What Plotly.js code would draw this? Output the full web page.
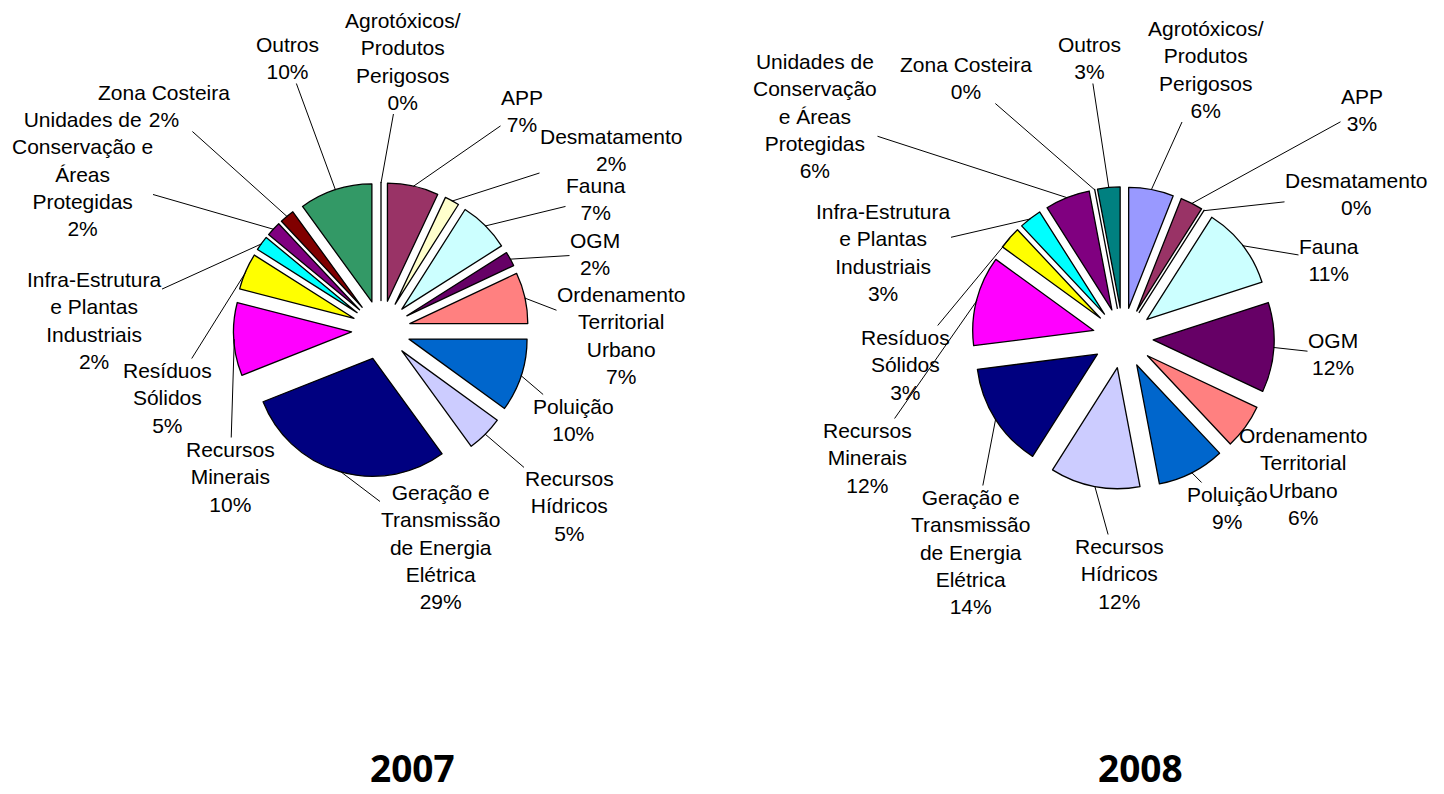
<!DOCTYPE html>
<html><head><meta charset="utf-8">
<script src="https://cdn.plot.ly/plotly-3.0.1.min.js"></script>
<style>html,body{margin:0;padding:0;background:#fff}#chart{width:1444px;height:794px}</style>
</head><body><div id="chart"></div>
<script>
// ---- data ----
const categories = ["Agrotóxicos/Produtos Perigosos", "APP", "Desmatamento", "Fauna", "OGM",
  "Ordenamento Territorial Urbano", "Poluição", "Recursos Hídricos",
  "Geração e Transmissão de Energia Elétrica", "Recursos Minerais", "Resíduos Sólidos",
  "Infra-Estrutura e Plantas Industriais", "Unidades de Conservação e Áreas Protegidas",
  "Zona Costeira", "Outros"];
const values2007 = [0, 7, 2, 7, 2, 7, 10, 5, 29, 10, 5, 2, 2, 2, 10];
const values2008 = [6, 3, 0, 11, 12, 6, 9, 12, 14, 12, 3, 3, 6, 0, 3];
const labels2007 = ["Agrotóxicos/<br>Produtos<br>Perigosos", "APP", "Desmatamento", "Fauna", "OGM",
  "Ordenamento<br>Territorial<br>Urbano", "Poluição", "Recursos<br>Hídricos",
  "Geração e<br>Transmissão<br>de Energia<br>Elétrica", "Recursos<br>Minerais", "Resíduos<br>Sólidos",
  "Infra-Estrutura<br>e Plantas<br>Industriais", "Unidades de<br>Conservação e<br>Áreas<br>Protegidas",
  "Zona Costeira", "Outros"];
const labels2008 = ["Agrotóxicos/<br>Produtos<br>Perigosos", "APP", "Desmatamento", "Fauna", "OGM",
  "Ordenamento<br>Territorial<br>Urbano", "Poluição", "Recursos<br>Hídricos",
  "Geração e<br>Transmissão<br>de Energia<br>Elétrica", "Recursos<br>Minerais", "Resíduos<br>Sólidos",
  "Infra-Estrutura<br>e Plantas<br>Industriais", "Unidades de<br>Conservação<br>e Áreas<br>Protegidas",
  "Zona Costeira", "Outros"];
const years = ["2007", "2008"];

// ---- styles / layout ----
const colors2007 = ["#9999FF", "#993366", "#FFFFCC", "#CCFFFF", "#660066", "#FF8080", "#0066CC", "#CCCCFF",
  "#000080", "#FF00FF", "#FFFF00", "#00FFFF", "#800080", "#800000", "#339966"];
const colors2008 = ["#9999FF", "#993366", "#FFFFCC", "#CCFFFF", "#660066", "#FF8080", "#0066CC", "#CCCCFF",
  "#000080", "#FF00FF", "#FFFF00", "#00FFFF", "#800080", "#800000", "#008080"];
const W = 1444, H = 794;
const PULL = 0.25;
const pies = [
  {cx: 381, cy: 330, r: 118, titleX: 412},
  {cx: 1123, cy: 338, r: 121, titleX: 1140}
];
// label block centres (pixels)
const labelPos2007 = [[403,61],[522,111],[611,150],[596,199],[595,254],[621,335],[573,420],[569,506],
  [440,547],[230,477],[167,398],[94,320],[82,174],[164,106],[287,58]];
const labelPos2008 = [[1206,69],[1362,110],[1356,194],[1329,260],[1333,354],[1303,476],[1227,508],[1119,574],
  [970,552],[867,458],[905,365],[883,253],[815,116],[966,78],[1089,58]];

const labelFont = {family: "Liberation Sans, Arial, sans-serif", size: 21, color: "#000"};

const datasets = [
  {values: values2007, labels: labels2007, colors: colors2007, pos: labelPos2007},
  {values: values2008, labels: labels2008, colors: colors2008, pos: labelPos2008}
];

const traces = [];
const annotations = [];
datasets.forEach((ds, k) => {
  const p = pies[k];
  const half = p.r * (1 + PULL);
  traces.push({
    type: "pie",
    values: ds.values,
    labels: categories,
    sort: false,
    direction: "clockwise",
    rotation: 0,
    pull: PULL,
    textinfo: "none",
    hoverinfo: "label+percent",
    marker: {colors: ds.colors, line: {color: "#000", width: 1.3}},
    domain: {
      x: [(p.cx - half - 40) / W, (p.cx + half + 40) / W],
      y: [1 - (p.cy + half) / H, 1 - (p.cy - half) / H]
    },
    showlegend: false
  });
  const total = ds.values.reduce((a, b) => a + b, 0);
  let cum = 0;
  ds.values.forEach((v, i) => {
    const theta = (cum + v / 2) / total * 2 * Math.PI;
    cum += v;
    const dist = p.r * (1 + PULL) - 0.5;
    const tx = p.cx + dist * Math.sin(theta);
    const ty = p.cy - dist * Math.cos(theta);
    const [lx, ly] = ds.pos[i];
    annotations.push({
      x: tx / W, y: 1 - ty / H, xref: "paper", yref: "paper",
      ax: lx - tx, ay: ly - ty,
      showarrow: true, arrowhead: 0, arrowwidth: 1, arrowcolor: "#000", standoff: 0,
      text: ds.labels[i] + "<br>" + Math.round(v / total * 100) + "%",
      font: labelFont, align: "center", borderpad: 0
    });
  });
  annotations.push({
    x: p.titleX / W, y: 0, xref: "paper", yref: "paper",
    showarrow: false, text: "<b>" + years[k] + "</b>",
    font: {family: "Open Sans, DejaVu Sans, sans-serif", size: 37, color: "#000"},
    xanchor: "center", yanchor: "bottom", borderpad: 0
  });
});

const layout = {
  width: W, height: H,
  margin: {l: 0, r: 0, t: 0, b: 0},
  paper_bgcolor: "#fff",
  showlegend: false,
  annotations: annotations
};
Plotly.newPlot("chart", traces, layout, {displayModeBar: false, staticPlot: true});
</script>
</body></html>
